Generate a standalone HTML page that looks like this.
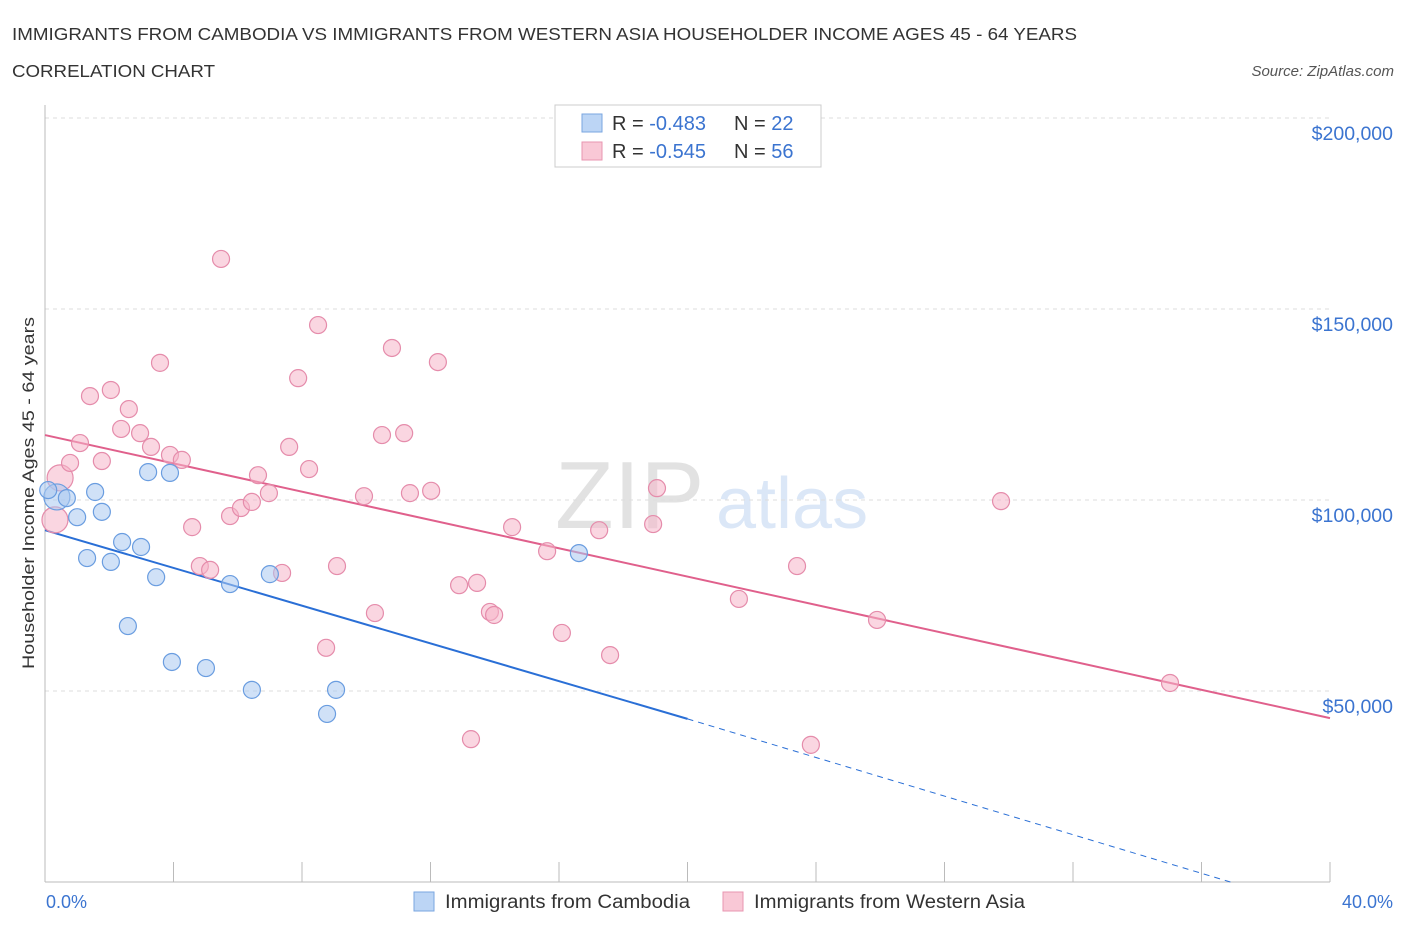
<!DOCTYPE html>
<html><head><meta charset="utf-8"><style>
body{margin:0;background:#fff;font-family:"Liberation Sans",sans-serif;}
svg text{font-family:"Liberation Sans",sans-serif;}
</style></head><body>
<svg id="c" width="1406" height="930" xmlns="http://www.w3.org/2000/svg">
<text x="12" y="40" font-size="17.5" fill="#333" textLength="1065" lengthAdjust="spacingAndGlyphs">IMMIGRANTS FROM CAMBODIA VS IMMIGRANTS FROM WESTERN ASIA HOUSEHOLDER INCOME AGES 45 - 64 YEARS</text>
<text x="12" y="77" font-size="17.5" fill="#333" textLength="203" lengthAdjust="spacingAndGlyphs">CORRELATION CHART</text>
<text x="1394" y="76" font-size="15" fill="#555" font-style="italic" text-anchor="end">Source: ZipAtlas.com</text>
<g opacity="0.18">
<text x="555" y="528" font-size="96" fill="#666" font-family="Liberation Serif" >ZIP</text>
<text x="716" y="528" font-size="72" fill="#3b7dd8">atlas</text>
</g>
<g id="grid"></g>
<g id="axes"></g>
<g id="lines"></g>
<g id="pts"></g>
<text x="34" y="493" font-size="17" fill="#333" text-anchor="middle" textLength="352" lengthAdjust="spacingAndGlyphs" transform="rotate(-90 34 493)">Householder Income Ages 45 - 64 years</text>
<text x="46" y="908" font-size="18" fill="#3b74d0">0.0%</text>
<text x="1393" y="908" font-size="18" fill="#3b74d0" text-anchor="end">40.0%</text>
<g>
<rect x="555" y="105" width="266" height="62" fill="#fff" stroke="#ccc"/>
<rect x="582" y="114" width="20" height="18" fill="#bcd5f5" stroke="#7aa6e0"/>
<rect x="582" y="142" width="20" height="18" fill="#f9c8d6" stroke="#e896b0"/>
<text x="612" y="130" font-size="20" fill="#333">R = <tspan fill="#3b74d0">-0.483</tspan><tspan x="734">N = </tspan><tspan fill="#3b74d0">22</tspan></text>
<text x="612" y="158" font-size="20" fill="#333">R = <tspan fill="#3b74d0">-0.545</tspan><tspan x="734">N = </tspan><tspan fill="#3b74d0">56</tspan></text>
</g>
<g>
<rect x="414" y="892" width="20" height="19" fill="#bcd5f5" stroke="#7aa6e0"/>
<text x="445" y="908" font-size="19" fill="#333" textLength="245" lengthAdjust="spacingAndGlyphs">Immigrants from Cambodia</text>
<rect x="723" y="892" width="20" height="19" fill="#f9c8d6" stroke="#e896b0"/>
<text x="754" y="908" font-size="19" fill="#333" textLength="271" lengthAdjust="spacingAndGlyphs">Immigrants from Western Asia</text>
</g>
</svg>
<script>
const yTicks=[50000,100000,150000,200000];
const yTickLabels=["$50,000","$100,000","$150,000","$200,000"];
const blueX=[0.37,0.68,1.56,1.0,1.77,1.31,2.05,2.4,2.99,3.46,2.58,3.95,5.01,5.76,3.21,3.89,7.0,6.44,9.06,8.78,16.62,0.1];
const blueY=[100800,100500,102100,95500,96900,84800,83800,89000,87700,79800,67000,57600,56000,78000,107300,107100,80600,50300,50300,44000,86100,102600];
const blueR=[13,8.5,8.5,8.5,8.5,8.5,8.5,8.5,8.5,8.5,8.5,8.5,8.5,8.5,8.5,8.5,8.5,8.5,8.5,8.5,8.5,8.5];
const pinkX=[0.31,0.47,0.78,1.09,1.40,2.05,1.77,2.37,2.61,2.96,3.30,3.58,3.89,4.26,4.58,4.82,5.14,5.48,5.76,6.10,6.44,6.63,6.97,7.38,7.60,7.88,8.22,8.50,8.75,9.09,9.93,10.27,10.49,10.80,11.18,11.36,12.02,12.23,12.89,13.26,13.45,13.85,13.98,14.54,15.63,16.09,17.25,17.59,18.93,19.05,21.60,23.41,23.84,25.90,29.76,35.02];
const pinkY=[94800,105800,109700,114900,127200,128800,110200,118600,123800,117500,113900,135900,111800,110500,92900,82700,81700,163100,95800,97900,99500,106500,101800,80900,113900,131900,108100,145800,61300,82700,101000,70400,117000,139800,117500,101800,102400,136100,77700,37400,78300,70700,69900,92900,86600,65200,92100,59400,93700,103100,74100,82700,35900,68600,99700,52100];
const blueTrend=[[0,92100],[20,42700],[36.9,0]];
const pinkTrend=[[0,117000],[40,42900]];
const X=p=>45+p/40*1285, Y=v=>882-v/50000*191;
const NS="http://www.w3.org/2000/svg";
function mk(t,a,parent){const e=document.createElementNS(NS,t);for(const k in a)e.setAttribute(k,a[k]);document.getElementById(parent).appendChild(e);return e;}
yTicks.forEach((v,i)=>{
 const g=mk('line',{x1:45,x2:1330,y1:Y(v),y2:Y(v),stroke:'#ddd','stroke-dasharray':'4 4'},'grid');
 
 
 const t=mk('text',{x:1393,y:Y(v)+22,'font-size':19.5,fill:'#3b74d0','text-anchor':'end'},'grid');
 t.textContent=yTickLabels[i];
 
 
});
mk('line',{x1:45,x2:45,y1:105,y2:882,stroke:'#bbb'},'axes');
mk('line',{x1:45,x2:1330,y1:882,y2:882,stroke:'#bbb'},'axes');
for(let p=0;p<=40;p+=4){const l=mk('line',{x1:X(p),x2:X(p),y1:862,y2:882,stroke:'#bbb'},'axes');
 
 }
function pts(xs,ys,rs,fill,stroke,name){xs.forEach((x,i)=>{const c=mk('circle',{cx:X(x),cy:Y(ys[i]),r:rs?rs[i]:(i<2?13:8.5),fill:fill,stroke:stroke,'stroke-width':1.2,'fill-opacity':0.55},'pts');
 
 });}
pts(pinkX,pinkY,null,'#f5b5c9','#e58cab','point-western-asia');
pts(blueX,blueY,blueR,'#a9c8f0','#6a9de0','point-cambodia');
const b1=mk('line',{x1:X(blueTrend[0][0]),y1:Y(blueTrend[0][1]),x2:X(blueTrend[1][0]),y2:Y(blueTrend[1][1]),stroke:'#2a6fd6','stroke-width':2},'lines');


const b2=mk('line',{x1:X(blueTrend[1][0]),y1:Y(blueTrend[1][1]),x2:X(blueTrend[2][0]),y2:Y(blueTrend[2][1]),stroke:'#2a6fd6','stroke-width':1,'stroke-dasharray':'6 5'},'lines');


const p1=mk('line',{x1:X(pinkTrend[0][0]),y1:Y(pinkTrend[0][1]),x2:X(pinkTrend[1][0]),y2:Y(pinkTrend[1][1]),stroke:'#e0608c','stroke-width':2},'lines');


</script>
</body></html>
